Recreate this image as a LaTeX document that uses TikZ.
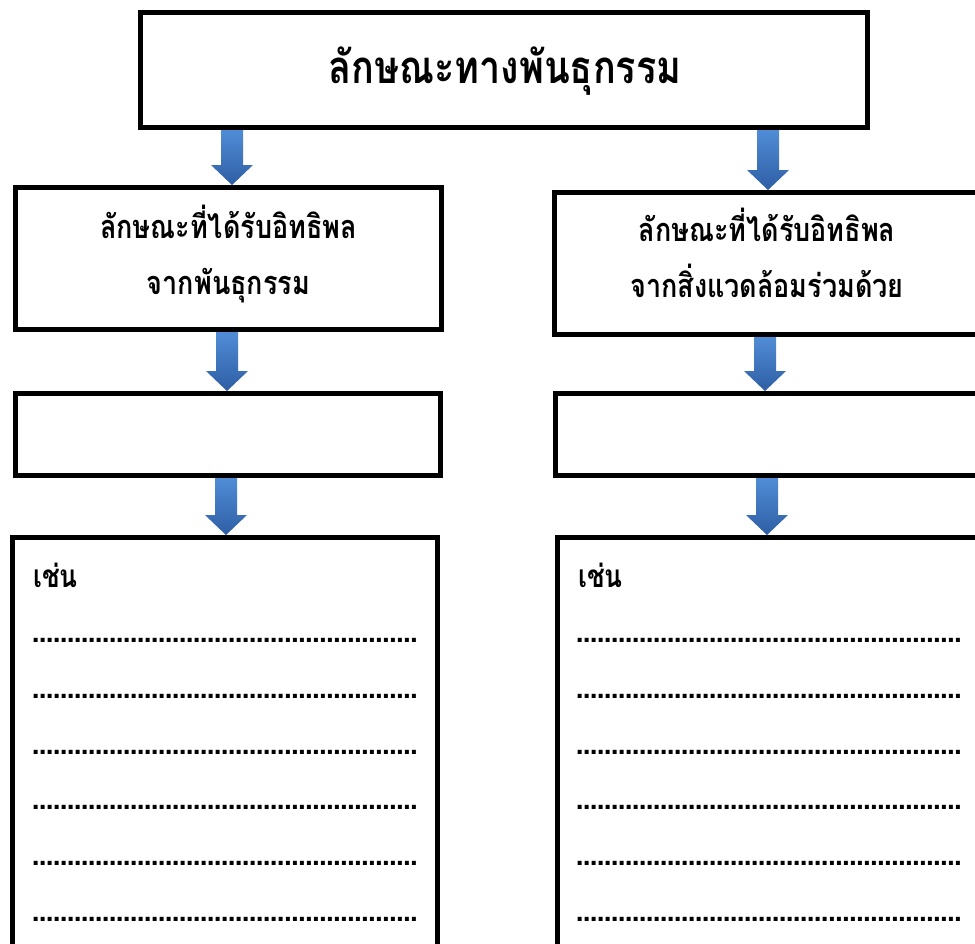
\documentclass[tikz,border=0pt]{standalone}
\usepackage{fontspec}
\newfontfamily\thai[Script=Thai, FakeStretch=0.83]{Loma}
\newfontfamily\dotfont{Liberation Sans}
\usetikzlibrary{calc}
\definecolor{arrowtop}{RGB}{80,141,214}
\definecolor{arrowbot}{RGB}{46,94,164}
\newcommand{\dotrow}{\hbox to 385pt{\leaders\hbox to 7pt{\hss.\hss}\hfill}}
\newcommand{\blockarrow}[3]{%
  \path (#1,0) coordinate (ax);
  \shade[top color=arrowtop, bottom color=arrowbot]
    let \p1=(#2.south -| ax), \p2=(#3.north -| ax) in
    (\x1-11pt,\y1) -- (\x1+11pt,\y1) -- (\x1+11pt,\y2+20pt) -- (\x1+21pt,\y2+20pt)
    -- (\x2,\y2) -- (\x1-21pt,\y2+20pt) -- (\x1-11pt,\y2+20pt) -- cycle;
}
\begin{document}
\begin{tikzpicture}[x=1pt,y=-1pt,
  box/.style={draw=black, line width=5pt, fill=white, rectangle, inner sep=0pt, align=center},
  title/.style={font=\thai\bfseries\fontsize{45.5}{50}\selectfont, inner sep=0pt},
  sub/.style={font=\thai\bfseries\fontsize{32.5}{56}\selectfont, inner sep=0pt, align=center},
  example/.style={font=\thai\bfseries\fontsize{31.5}{34}\selectfont, inner sep=0pt, anchor=west},
  dotline/.style={font=\dotfont\bfseries\fontsize{28}{30}\selectfont, inner sep=0pt, anchor=base west}]
\useasboundingbox (0,0) rectangle (975,943);
\clip (0,0) rectangle (975,943);
\fill[white] (0,0) rectangle (975,943);
\node[box, minimum width=727pt, minimum height=115pt] (top) at (504,70) {};
\node[box, minimum width=426pt, minimum height=142pt] (L2) at (228.5,258.5) {};
\node[box, minimum width=425pt, minimum height=142pt] (R2) at (767,263.5) {};
\node[box, minimum width=425pt, minimum height=82pt] (L3) at (228,434.5) {};
\node[box, minimum width=424pt, minimum height=82pt] (R3) at (767.5,434.5) {};
\node[box, minimum width=425pt, minimum height=413pt] (L4) at (225,744) {};
\node[box, minimum width=425pt, minimum height=413pt] (R4) at (770,744) {};
\node[title] (topt) at ([xshift=1pt,yshift=-1pt]top.center) {ลักษณะทางพันธุกรรม};
\node[sub] (L2t) at ([yshift=4pt]L2.center) {ลักษณะที่ได้รับอิทธิพล\\จากพันธุกรรม};
\node[sub] (R2t) at ([yshift=11pt]R2.center) {ลักษณะที่ได้รับอิทธิพล\\จากสิ่งแวดล้อมร่วมด้วย};
\node[example] (Lex) at (33,575) {เช่น};
\node[example] (Rex) at (578,575) {เช่น};
\foreach \i/\yy in {1/642,2/698,3/754,4/809,5/865,6/921}{
  \node[dotline] (Ld\i) at (32,\yy) {\dotrow};
  \node[dotline] (Rd\i) at (576,\yy) {\dotrow};
}
\blockarrow{232}{top}{L2}
\blockarrow{768}{top}{R2}
\blockarrow{227}{L2}{L3}
\blockarrow{765}{R2}{R3}
\blockarrow{226}{L3}{L4}
\blockarrow{767}{R3}{R4}
\end{tikzpicture}
\end{document}
